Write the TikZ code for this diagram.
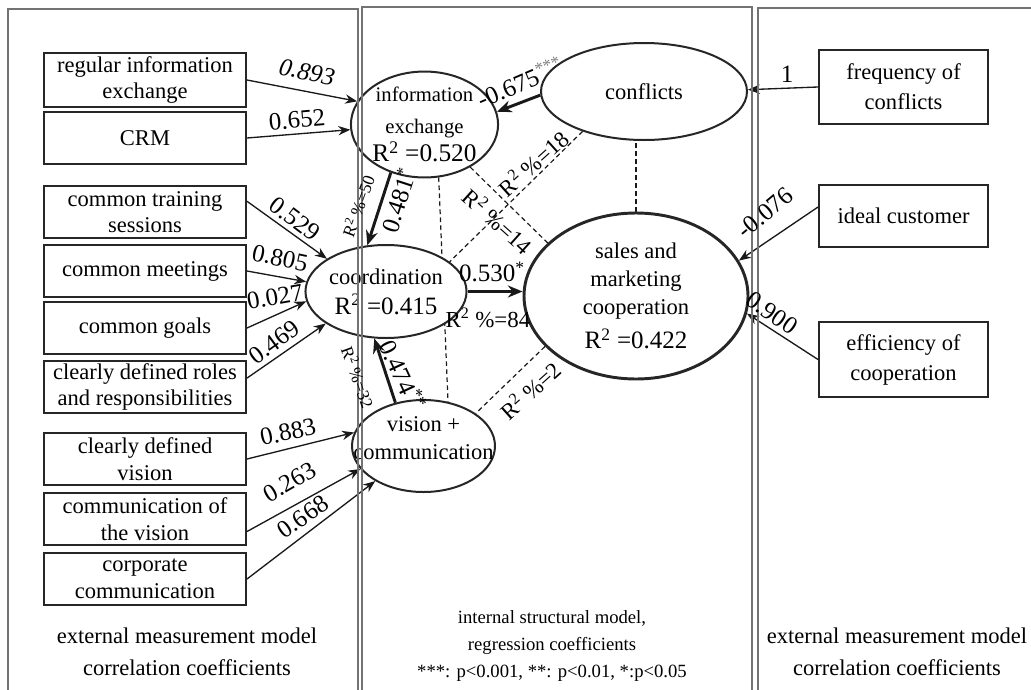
\documentclass[tikz,border=0pt]{standalone}
\usepackage{fontspec}
\setmainfont{Liberation Serif}
\usetikzlibrary{shapes.geometric,arrows.meta,backgrounds}
\newcommand\fsz[2]{\fontsize{#1}{#2}\selectfont}
\begin{document}
\begin{tikzpicture}[x=0.75pt,y=-0.75pt,
  panel/.style={draw=black!55, line width=1.1pt},
  box/.style={draw=black!85, line width=1.5pt, minimum width=202*0.75pt, minimum height=52*0.75pt, inner sep=0pt, align=center, font=\fsz{16.9}{20}, fill=white},
  rbox/.style={box, minimum width=169*0.75pt, font=\fsz{16.9}{22.5}},
  lat/.style={ellipse, draw=black!85, line width=1.5pt, inner sep=0pt, align=center, fill=white, font=\fsz{16.9}{21}},
  arr/.style={-{Stealth[length=9pt,width=7pt]}, line width=1pt, draw=black!90},
  thk/.style={-{Stealth[length=11pt,width=9pt]}, line width=2.2pt, draw=black!90},
  dsh/.style={dash pattern=on 3.5pt off 2.5pt, line width=0.9pt, draw=black!90},
  num/.style={font=\fsz{18.75}{22}, inner sep=0pt},
  rsq/.style={font=\fsz{17.2}{20}, inner sep=0pt},
  rsqs/.style={font=\fsz{13}{15}, inner sep=0pt},
  captxt/.style={align=center, inner sep=0pt}
]
\useasboundingbox (0,0) rectangle (1031,689);

% measurement boxes (left)
\node[box, minimum height=54*0.75pt] (B1) at (145,80) {regular information\\exchange};
\node[box] (B2) at (145,138) {CRM};
\node[box] (B3) at (145,212) {common training\\sessions};
\node[box] (B4) at (145,271) {common meetings};
\node[box] (B5) at (145,328) {common goals};
\node[box] (B6) at (145,387) {clearly defined roles\\and responsibilities};
\node[box] (B7) at (145,459) {clearly defined\\vision};
\node[box] (B8) at (145,519) {communication of\\the vision};
\node[box] (B9) at (145,579) {corporate\\communication};

% measurement boxes (right)
\node[rbox, minimum height=74*0.75pt] (F) at (903.5,87) {frequency of\\conflicts};
\node[rbox, minimum height=62*0.75pt] (I) at (903.5,216) {ideal customer};
\node[rbox, minimum height=75*0.75pt] (E) at (903.5,359.5) {efficiency of\\cooperation};

% latent variables
\node[lat, minimum width=145*0.75pt, minimum height=105*0.75pt, font=\fsz{15.5}{22}] (IE) at (424.5,124.5)
  {information\\[2pt]exchange\\[-1pt]{\fsz{19}{22}R\textsuperscript{2} =0.520}};
\node[lat, minimum width=206*0.75pt, minimum height=97*0.75pt] (CF) at (644,91.5) {conflicts};
\node[lat, minimum width=142*0.75pt, minimum height=93*0.75pt] (CO) at (386,291.5)
  {coordination\\[1.5pt]{\fsz{18.75}{21}R\textsuperscript{2} =0.415}};
\node[lat, minimum width=224*0.75pt, minimum height=166*0.75pt, line width=2.2pt] (SM) at (636,296)
  {sales and\\marketing\\cooperation\\[5pt]{\fsz{18.75}{21}R\textsuperscript{2} =0.422}};
\node[lat, minimum width=143*0.75pt, minimum height=92*0.75pt] (VC) at (423.5,446) {};
\node[captxt, font=\fsz{16.9}{21}] (VCt) at (423.5,438) {vision +\\communication};

% dashed relations (behind)
\begin{pgfonlayer}{background}
\draw[dsh] (SM.north) -- (SM.north |- CF.south);
\draw[dsh] (IE.285) -- (VC.61);
\draw[dsh] (IE.317) -- (SM.149);
\draw[dsh] (CF.213) -- (CO.25);
\draw[dsh] (SM.209) -- (VC.32);
\end{pgfonlayer}

% measurement arrows
\draw[arr] (B1.east) -- (IE.161);
\draw[arr] (B2.east) -- (IE.184);
\draw[arr] (B3.6) -- (CO.151);
\draw[arr] (B4.east) -- (CO.173);
\draw[arr] (B5.east) -- (CO.187);
\draw[arr] (B6.5) -- (CO.208);
\draw[arr] (B7.east) -- (VC.169);
\draw[arr] (B8.353) -- (VC.200);
\draw[arr] (B9.east) -- (VC.216);
\draw[arr] (F.west) -- (CF.1);
\draw[arr] (I.174) -- (SM.19);
\draw[arr] (E.west) -- (SM.351);

% structural arrows
\draw[thk] (CF.182) -- (IE.10);
\draw[thk] (IE.235) -- (CO.112);
\draw[thk] (CO.east) -- (CO.east -| SM.west);
\draw[thk] (VC.123) -- (CO.256);

% panels
\draw[panel] (8,700) -- (8,9) -- (358,9) -- (358,700);
\draw[panel] (362,700) -- (362,7) -- (752,7) -- (752,700);
\draw[panel] (758,700) -- (758,8) -- (1040,8);

% loadings
\node[num, rotate=-12, font=\fsz{18.75}{22}\itshape] (l1) at (307,72) {0.893};
\node[num, rotate=5] (l2) at (297,120) {0.652};
\node[num, rotate=-37] (l3) at (295,219) {0.529};
\node[num, rotate=-12] (l4) at (280,258) {0.805};
\node[num, rotate=10] (l5) at (275,297) {0.027};
\node[num, rotate=36] (l6) at (274,342) {0.469};
\node[num, rotate=12] (l7) at (288,432) {0.883};
\node[num, rotate=30] (l8) at (290,482) {0.263};
\node[num, rotate=35] (l9) at (303,517) {0.668};
\node[num] (l10) at (787,74) {1};
\node[num, rotate=40] (l11) at (765,213) {-0.076};
\node[num, rotate=-35] (l12) at (772,313) {0.900};

% path coefficients
\node[num, rotate=23] (p1) at (520,82) {-0.675\textsuperscript{\textcolor{gray}{***}}};
\node[num, rotate=72] (p2) at (398,200) {0.481\textsuperscript{*}};
\node[num] (p3) at (492,272) {0.530\textsuperscript{*}};
\node[num, rotate=-65] (p4) at (403,375) {0.474\textsuperscript{**}};

% explained variance
\node[rsqs, rotate=70] (r1) at (358,206) {R\textsuperscript{2} \%=50};
\node[rsq] (r2) at (488,318) {R\textsuperscript{2} \%=84};
\node[rsqs, rotate=-70] (r3) at (358,377) {R\textsuperscript{2} \%=32};
\node[rsq, rotate=-42] (r4) at (498,221) {R\textsuperscript{2} \%=14};
\node[rsq, rotate=42] (r5) at (533,163) {R\textsuperscript{2} \%=18};
\node[rsq, rotate=42] (r6) at (530,390) {R\textsuperscript{2} \%=2};

% captions
\node[captxt, font=\fsz{16.9}{24}] (c1) at (187,652) {external measurement model\\correlation coefficients};
\node[captxt, font=\fsz{14}{20.5}] (c2) at (552,646) {internal structural model,\\regression coefficients\\***: p<0.001, **: p<0.01, *:p<0.05};
\node[captxt, font=\fsz{16.9}{24}] (c3) at (897,652) {external measurement model\\correlation coefficients};
\end{tikzpicture}
\end{document}
